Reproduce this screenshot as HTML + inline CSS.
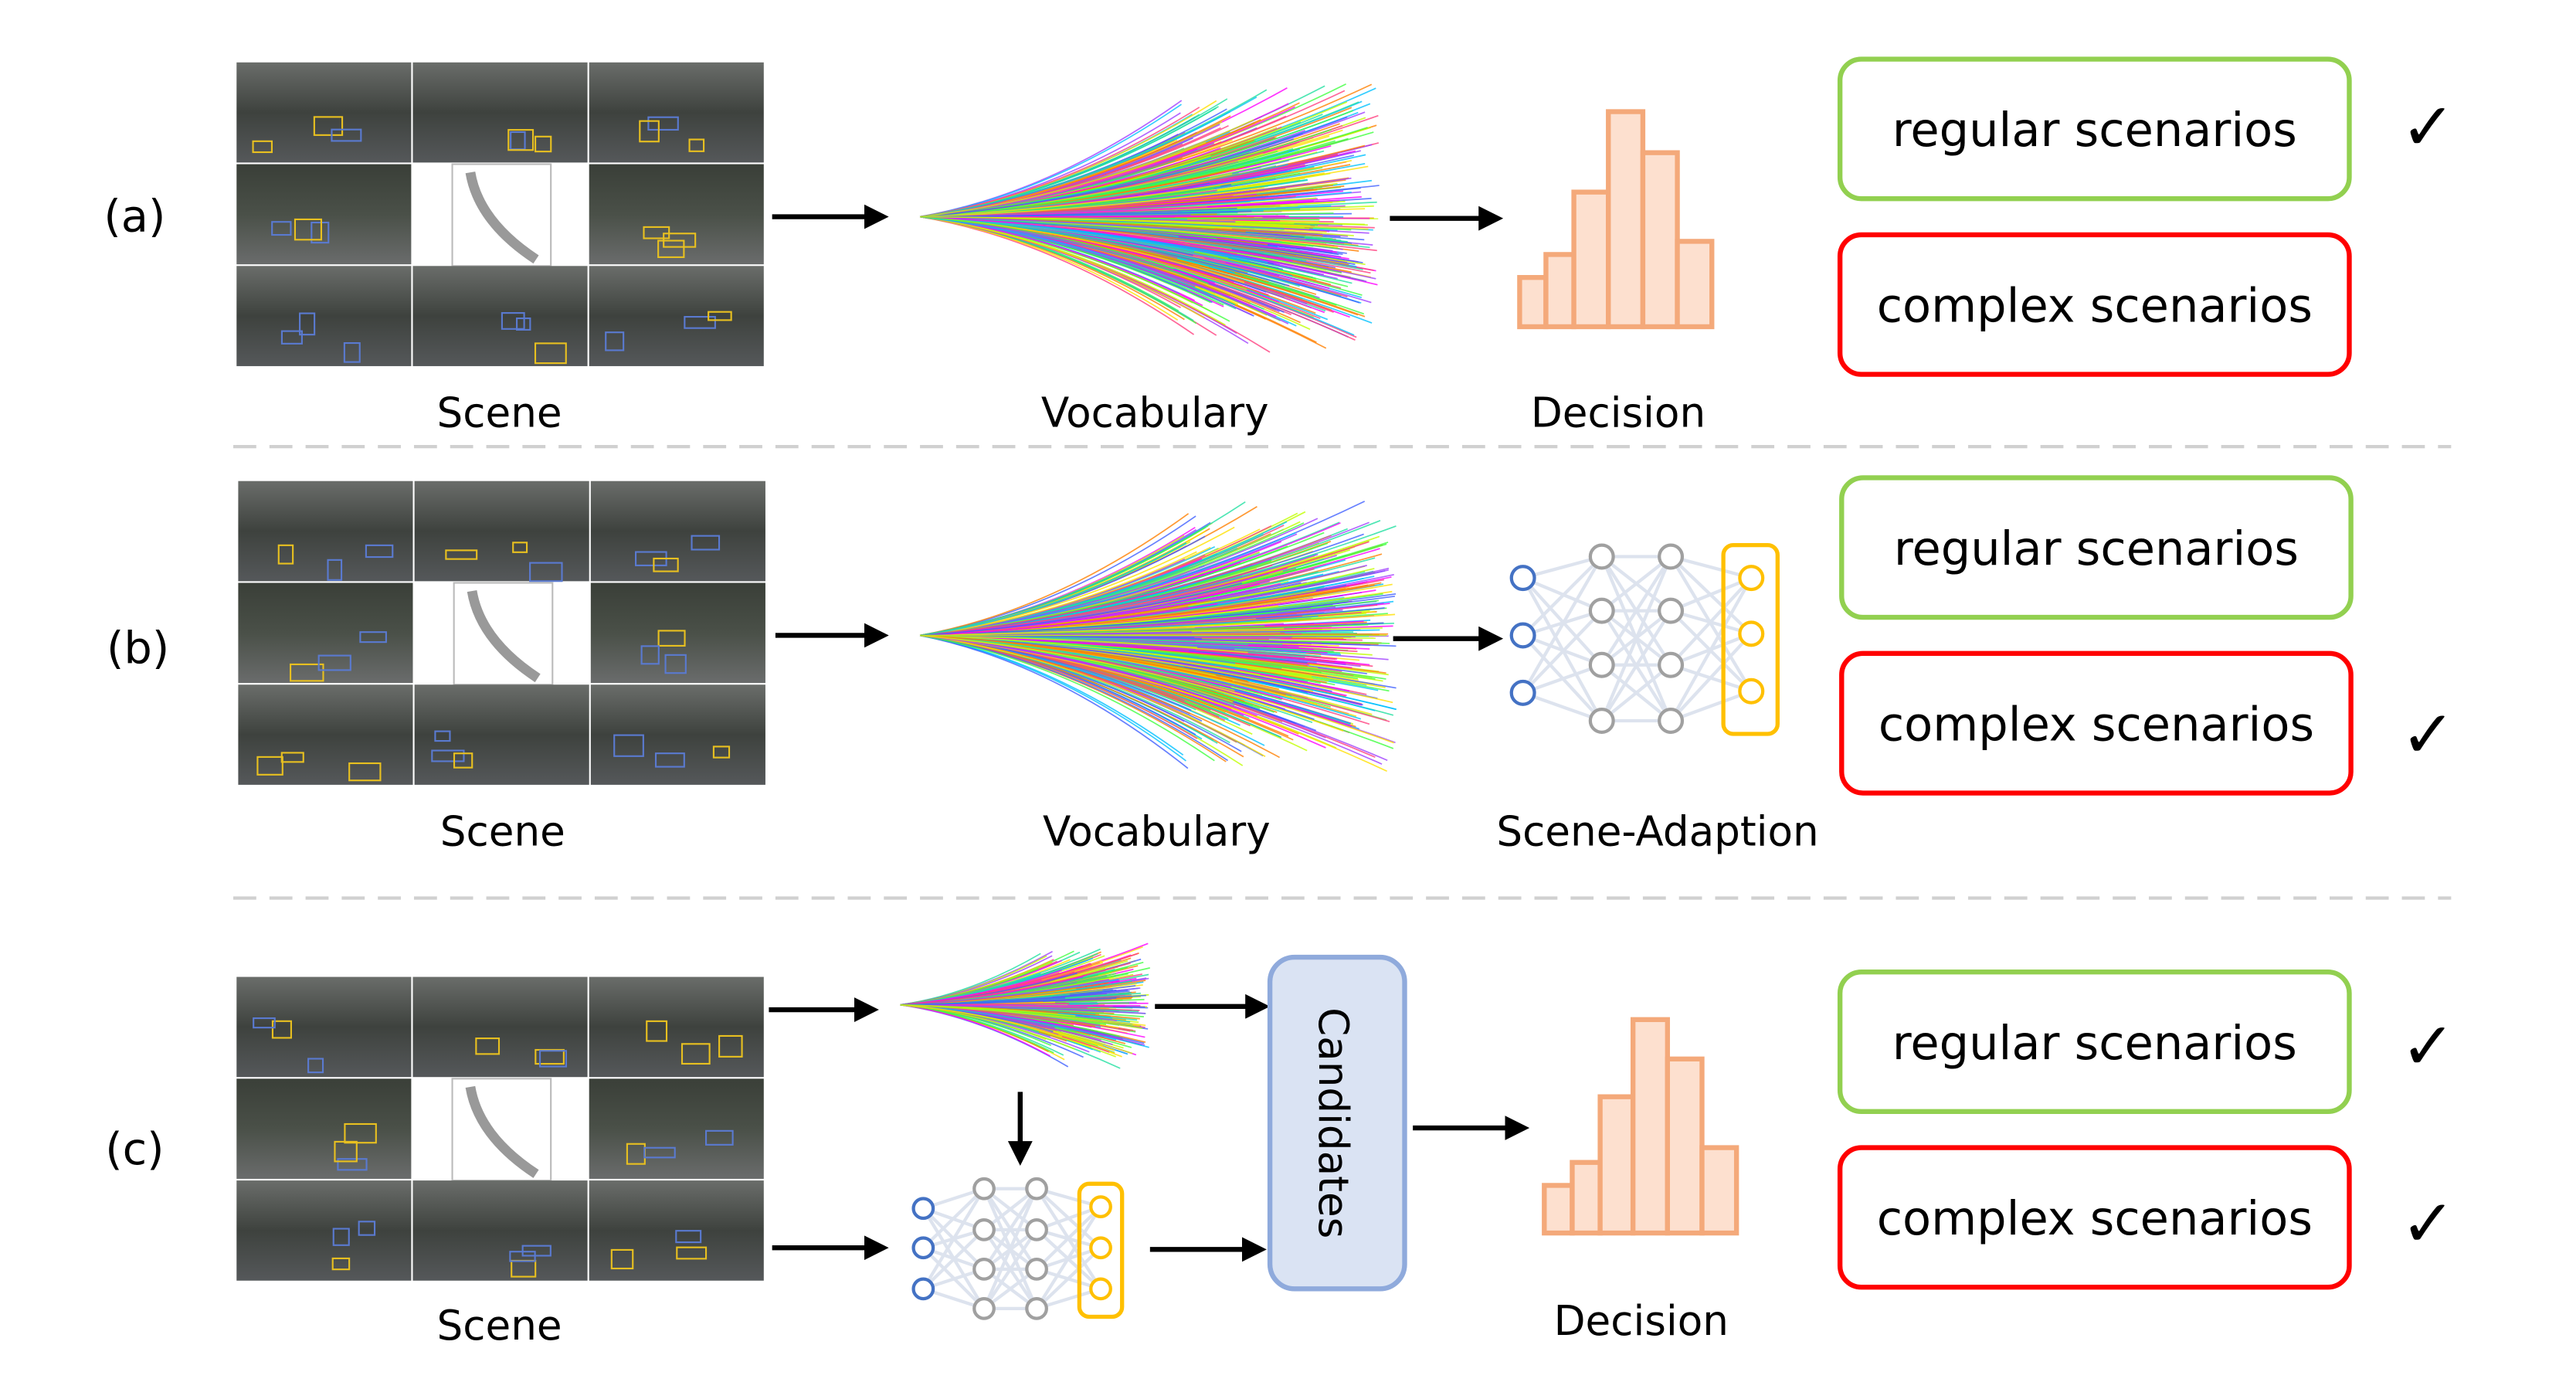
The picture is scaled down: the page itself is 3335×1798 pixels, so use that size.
<!DOCTYPE html>
<html><head><meta charset="utf-8"><style>
html,body{margin:0;padding:0;background:#fff;}
svg{display:block;}
text{font-family:"DejaVu Sans","Liberation Sans",sans-serif;fill:#000;}
</style></head><body>
<svg id="s" width="3335" height="1798" viewBox="0 0 1568 846" preserveAspectRatio="none" xmlns="http://www.w3.org/2000/svg">
<defs>
<marker id="ah" viewBox="0 0 10 10" refX="8" refY="5" markerWidth="5" markerHeight="5" orient="auto"><path d="M0,0 L10,5 L0,10 z" fill="#000"/></marker>
<linearGradient id="cam" x1="0" y1="0" x2="0" y2="1"><stop offset="0" stop-color="#6a6d6a"/><stop offset="0.5" stop-color="#3e423e"/><stop offset="1" stop-color="#55585a"/></linearGradient>
<linearGradient id="cam2" x1="0" y1="0" x2="0" y2="1"><stop offset="0" stop-color="#3a3f38"/><stop offset="0.5" stop-color="#4a5048"/><stop offset="1" stop-color="#6a6c6c"/></linearGradient>
</defs>
<g id="g"></g>
<g stroke="#000" stroke-width="3" marker-end="url(#ah)">
<line x1="470" y1="132" x2="538" y2="132"/>
<line x1="846" y1="133" x2="912" y2="133"/>
<line x1="472" y1="387" x2="538" y2="387"/>
<line x1="848" y1="389" x2="912" y2="389"/>
<line x1="468" y1="615" x2="532" y2="615"/>
<line x1="470" y1="760" x2="538" y2="760"/>
<line x1="703" y1="613" x2="770" y2="613"/>
<line x1="621" y1="665" x2="621" y2="707"/>
<line x1="700" y1="761" x2="768" y2="761"/>
<line x1="860" y1="687" x2="928" y2="687"/>
</g>
<g stroke="#d0d0d0" stroke-width="2" stroke-dasharray="14,8">
<line x1="142" y1="272" x2="1492" y2="272"/>
<line x1="142" y1="547" x2="1492" y2="547"/>
</g>
<g font-size="25" text-anchor="middle">
<text x="304" y="260">Scene</text><text x="703" y="260">Vocabulary</text><text x="985" y="260">Decision</text>
<text x="306" y="515">Scene</text><text x="704" y="515">Vocabulary</text><text x="1009" y="515">Scene-Adaption</text>
<text x="304" y="816">Scene</text><text x="999" y="813">Decision</text>
<text x="82" y="141" font-size="27">(a)</text><text x="84" y="404" font-size="27">(b)</text><text x="82" y="709" font-size="27">(c)</text>
</g>
<rect x="773" y="583" width="82" height="202" rx="15" fill="#dae3f3" stroke="#8faadc" stroke-width="3"/>
<text x="0" y="0" font-size="25" text-anchor="middle" transform="translate(803,684) rotate(90)">Candidates</text>
</svg>
<script>
var NS="http://www.w3.org/2000/svg",g=document.getElementById('g');
function el(t,a,p){var e=document.createElementNS(NS,t);for(var k in a)e.setAttribute(k,a[k]);(p||g).appendChild(e);return e;}
var seed=7;function r(){seed=(seed*16807)%2147483647;return seed/2147483647;}
function scene(x,y){var w=107.3,h=62;
for(var i=0;i<3;i++)for(var j=0;j<3;j++){var cx=x+j*w,cy=y+i*h;
if(i==1&&j==1){el('rect',{x:cx+24,y:cy,width:60,height:h,fill:'#fff',stroke:'#bbb'});
el('path',{d:'M'+(cx+35)+','+(cy+5)+' Q'+(cx+40)+','+(cy+35)+' '+(cx+75)+','+(cy+58),stroke:'#999','stroke-width':6,fill:'none'});continue;}
el('rect',{x:cx,y:cy,width:w-1,height:h-1,fill:(i==1?'url(#cam2)':'url(#cam)')});
for(var k=0;k<3;k++)el('rect',{x:cx+10+r()*70,y:cy+25+r()*25,width:8+r()*12,height:5+r()*8,fill:'none',stroke:r()>0.5?'#e8c020':'#5a7ad0','stroke-width':1});}
}
scene(144,38);scene(145,293);scene(144,595);
var cols=['#ff00ff','#00c0ff','#40ff40','#ff8000','#a040ff','#ff4080','#20e0a0','#ffe000','#4060ff','#c0ff00'];
function fan(x0,y0,L,S,n){for(var i=0;i<n;i++){var t=(r()*2-1),l=L*(0.55+0.45*r());var ex=x0+l,ey=y0+t*S*(0.4+0.6*r());
el('path',{d:'M'+x0+','+y0+' Q'+(x0+l*0.5)+','+(y0+(ey-y0)*0.2)+' '+ex+','+ey,stroke:cols[i%10],'stroke-width':0.8,fill:'none','stroke-opacity':0.8});}}
fan(560,132,280,88,700);fan(560,387,290,88,700);fan(548,612,152,42,400);
function hist(x,base,bars){bars.forEach(function(b){el('rect',{x:b[0],y:b[2],width:b[1]-b[0],height:base-b[2],fill:'#fde0cf',stroke:'#f4a97a','stroke-width':3});});}
hist(0,199,[[925,941,169],[941,958,155],[958,979,117],[979,1000,68],[1000,1021,93],[1021,1042,147]]);
hist(0,751,[[940,957,722],[957,974,708],[974,994,668],[994,1015,621],[1015,1036,645],[1036,1057,699]]);
function net(xi,yi,x1,x2,yh,xo,yo,rect,rad){
var L=[[xi,yi],[x1,yh],[x2,yh],[xo,yo]];
for(var a=0;a<3;a++)L[a][1].forEach(function(ya){L[a+1][1].forEach(function(yb){el('line',{x1:L[a][0],y1:ya,x2:L[a+1][0],y2:yb,stroke:'#dde3ee','stroke-width':2});});});
el('rect',{x:rect[0],y:rect[1],width:rect[2],height:rect[3],rx:6,fill:'none',stroke:'#ffc000','stroke-width':2.5});
var c=['#4472c4','#a0a0a0','#a0a0a0','#ffc000'];
L.forEach(function(l,a){l[1].forEach(function(y){el('circle',{cx:l[0],cy:y,r:rad,fill:'#fff',stroke:c[a],'stroke-width':2});});});}
net(927,[352,387,422],975,1017,[339,372,405,439],1066,[352,386,421],[1049,332,33,115],7);
net(562,[736,760,785],599,631,[724,749,773,797],670,[735,760,785],[657,721,26,81],6);
function box(x,y,c,t){el('rect',{x:x,y:y,width:310,height:85,rx:13,fill:'#fff',stroke:c,'stroke-width':3});
var e=el('text',{x:x+155,y:y+53,'font-size':28.5,'text-anchor':'middle'});e.textContent=t;}
[[1120,36,143],[1121,291,398],[1120,592,699]].forEach(function(b){box(b[0],b[1],'#92d050','regular scenarios');box(b[0],b[2],'#ff0000','complex scenarios');});
[[1478,77],[1478,447],[1478,637],[1478,745]].forEach(function(p){var e=el('text',{x:p[0],y:p[1]+14,'font-size':40,'text-anchor':'middle'});e.textContent='\u2713';});
</script>
</body></html>
